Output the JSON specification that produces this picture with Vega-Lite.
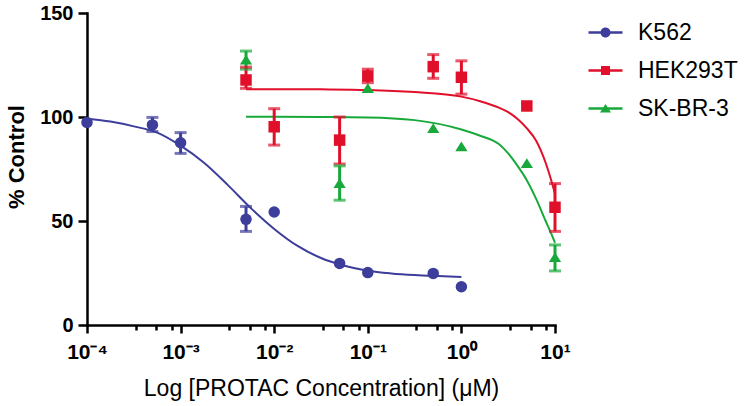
{
  "$schema": "https://vega.github.io/schema/vega-lite/v6.json",
  "width": 468,
  "height": 312,
  "autosize": {"type": "none"},
  "padding": {"left": 87, "top": 13, "right": 195, "bottom": 81},
  "background": "white",
  "config": {"view": {"stroke": null}, "font": "Liberation Sans"},
  "datasets": {
    "pts": [
      {"cell": "K562", "x": 0.0001, "y": 97.4},
      {"cell": "K562", "x": 0.0005, "y": 96.2, "lo": 93, "hi": 99.8},
      {"cell": "K562", "x": 0.001, "y": 87.6, "lo": 82.5, "hi": 92.5},
      {"cell": "K562", "x": 0.005, "y": 50.8, "lo": 45, "hi": 57},
      {"cell": "K562", "x": 0.01, "y": 54.3},
      {"cell": "K562", "x": 0.05, "y": 29.6},
      {"cell": "K562", "x": 0.1, "y": 25.2},
      {"cell": "K562", "x": 0.5, "y": 24.8},
      {"cell": "K562", "x": 1, "y": 18.4},
      {"cell": "SK-BR-3", "x": 0.005, "y": 127.4, "lo": 123, "hi": 131.7},
      {"cell": "SK-BR-3", "x": 0.05, "y": 68.1, "lo": 60, "hi": 76.5},
      {"cell": "SK-BR-3", "x": 0.1, "y": 113.8},
      {"cell": "SK-BR-3", "x": 0.5, "y": 94.5},
      {"cell": "SK-BR-3", "x": 1, "y": 85.7},
      {"cell": "SK-BR-3", "x": 5, "y": 77.7},
      {"cell": "SK-BR-3", "x": 10, "y": 32.5, "lo": 26, "hi": 38.5},
      {"cell": "HEK293T", "x": 0.005, "y": 117.8, "lo": 113.8, "hi": 124},
      {"cell": "HEK293T", "x": 0.01, "y": 95.3, "lo": 86.5, "hi": 104},
      {"cell": "HEK293T", "x": 0.05, "y": 88.9, "lo": 77.4, "hi": 100},
      {"cell": "HEK293T", "x": 0.1, "y": 119.7, "lo": 116.5, "hi": 123},
      {"cell": "HEK293T", "x": 0.5, "y": 124.2, "lo": 118.6, "hi": 130},
      {"cell": "HEK293T", "x": 1, "y": 119.1, "lo": 111, "hi": 127},
      {"cell": "HEK293T", "x": 5, "y": 105.3},
      {"cell": "HEK293T", "x": 10, "y": 56.6, "lo": 45, "hi": 68}
    ],
    "fit": [
      {"cell": "K562", "x": 0.0001, "y": 99.2},
      {"cell": "K562", "x": 0.00017783, "y": 97.8},
      {"cell": "K562", "x": 0.00031623, "y": 95.5},
      {"cell": "K562", "x": 0.00056234, "y": 92.5},
      {"cell": "K562", "x": 0.001, "y": 86.2},
      {"cell": "K562", "x": 0.0017783, "y": 78},
      {"cell": "K562", "x": 0.0031623, "y": 67.5},
      {"cell": "K562", "x": 0.0056234, "y": 56.2},
      {"cell": "K562", "x": 0.01, "y": 46.2},
      {"cell": "K562", "x": 0.017783, "y": 38},
      {"cell": "K562", "x": 0.031623, "y": 32.2},
      {"cell": "K562", "x": 0.056234, "y": 28.5},
      {"cell": "K562", "x": 0.1, "y": 26.1},
      {"cell": "K562", "x": 0.17783, "y": 24.8},
      {"cell": "K562", "x": 0.31623, "y": 24},
      {"cell": "K562", "x": 0.56234, "y": 23.5},
      {"cell": "K562", "x": 1, "y": 23.1},
      {"cell": "HEK293T", "x": 0.005, "y": 113.4},
      {"cell": "HEK293T", "x": 0.01, "y": 113.4},
      {"cell": "HEK293T", "x": 0.031623, "y": 113.3},
      {"cell": "HEK293T", "x": 0.1, "y": 113.0},
      {"cell": "HEK293T", "x": 0.31623, "y": 112.0},
      {"cell": "HEK293T", "x": 1, "y": 109.8},
      {"cell": "HEK293T", "x": 1.5849, "y": 107.6},
      {"cell": "HEK293T", "x": 2.5119, "y": 104.5},
      {"cell": "HEK293T", "x": 3.1623, "y": 102.3},
      {"cell": "HEK293T", "x": 3.9811, "y": 99},
      {"cell": "HEK293T", "x": 5.0119, "y": 94.5},
      {"cell": "HEK293T", "x": 6.3096, "y": 88.5},
      {"cell": "HEK293T", "x": 7.9433, "y": 78},
      {"cell": "HEK293T", "x": 8.9125, "y": 71},
      {"cell": "HEK293T", "x": 10, "y": 63},
      {"cell": "SK-BR-3", "x": 0.005, "y": 100.1},
      {"cell": "SK-BR-3", "x": 0.01, "y": 100.1},
      {"cell": "SK-BR-3", "x": 0.031623, "y": 100},
      {"cell": "SK-BR-3", "x": 0.1, "y": 99.8},
      {"cell": "SK-BR-3", "x": 0.31623, "y": 98.5},
      {"cell": "SK-BR-3", "x": 1, "y": 94},
      {"cell": "SK-BR-3", "x": 1.5849, "y": 91},
      {"cell": "SK-BR-3", "x": 2.5119, "y": 87},
      {"cell": "SK-BR-3", "x": 3.1623, "y": 82.5},
      {"cell": "SK-BR-3", "x": 3.9811, "y": 76.5},
      {"cell": "SK-BR-3", "x": 5.0119, "y": 69.5},
      {"cell": "SK-BR-3", "x": 6.3096, "y": 60.5},
      {"cell": "SK-BR-3", "x": 7.9433, "y": 50},
      {"cell": "SK-BR-3", "x": 8.9125, "y": 45},
      {"cell": "SK-BR-3", "x": 10, "y": 39.5}
    ]
  },
  "layer": [
    {
      "data": {"name": "fit"},
      "mark": {"type": "line", "strokeWidth": 2, "interpolate": "monotone"},
      "encoding": {
        "x": {
          "field": "x", "type": "quantitative",
          "scale": {"type": "log", "domain": [0.0001, 10], "nice": false},
          "axis": {
            "values": [0.0001, 0.00033, 0.00055, 0.0008, 0.001, 0.0033, 0.0055, 0.008, 0.01, 0.033, 0.055, 0.08, 0.1, 0.33, 0.55, 0.8, 1, 3.3, 5.5, 8, 10],
            "labelExpr": "datum.value == 0.0001 ? '10⁻⁴' : datum.value == 0.001 ? '10⁻³' : datum.value == 0.01 ? '10⁻²' : datum.value == 0.1 ? '10⁻¹' : datum.value == 1 ? '10⁰' : datum.value == 10 ? '10¹' : ''",
            "tickSize": {"condition": {"test": "indexof([0.0001, 0.001, 0.01, 0.1, 1, 10], datum.value) >= 0", "value": 8}, "value": 5},
            "tickWidth": 2.5, "tickColor": "black",
            "domainColor": "black", "domainWidth": 2.5, "domainCap": "square",
            "labelFont": "Liberation Sans", "labelFontWeight": "bold", "labelFontSize": 21, "labelColor": "black",
            "labelPadding": 25, "labelBaseline": "alphabetic", "labelFlush": false, "labelOverlap": false, "labelBound": false,
            "grid": false,
            "title": "Log [PROTAC Concentration] (μM)",
            "titleFont": "Liberation Sans", "titleFontSize": 23, "titleFontWeight": "normal", "titleColor": "black",
            "titleY": 70, "titleBaseline": "alphabetic"
          }
        },
        "y": {
          "field": "y", "type": "quantitative",
          "scale": {"domain": [0, 150], "nice": false},
          "axis": {
            "values": [0, 50, 100, 150],
            "tickSize": 9, "tickWidth": 2.5, "tickColor": "black",
            "domainColor": "black", "domainWidth": 2.5, "domainCap": "square",
            "labelFont": "Liberation Sans", "labelFontWeight": "bold", "labelFontSize": 20, "labelColor": "black",
            "labelPadding": 5, "labelFlush": false, "labelOverlap": false,
            "grid": false,
            "title": "% Control",
            "titleFont": "Liberation Sans", "titleFontSize": 22, "titleFontWeight": "bold", "titleColor": "black",
            "titleX": -64, "titleY": 143.5, "titleAngle": -90, "titleAlign": "center", "titleBaseline": "alphabetic"
          }
        },
        "color": {
          "field": "cell", "type": "nominal",
          "scale": {"domain": ["K562", "HEK293T", "SK-BR-3"], "range": ["#3d3d9b", "#e0102b", "#19a93b"]}
        }
      }
    },
    {
      "data": {"name": "pts"},
      "transform": [{"filter": "isValid(datum.lo)"}],
      "mark": {"type": "rule", "strokeWidth": 3},
      "encoding": {
        "x": {"field": "x", "type": "quantitative"},
        "y": {"field": "lo", "type": "quantitative"},
        "y2": {"field": "hi"},
        "color": {"field": "cell", "type": "nominal"}
      }
    },
    {
      "data": {"name": "pts"},
      "transform": [{"filter": "isValid(datum.lo)"}],
      "mark": {"type": "tick", "orient": "horizontal", "size": 12, "thickness": 3},
      "encoding": {
        "x": {"field": "x", "type": "quantitative"},
        "y": {"field": "lo", "type": "quantitative"},
        "color": {"field": "cell", "type": "nominal"}
      }
    },
    {
      "data": {"name": "pts"},
      "transform": [{"filter": "isValid(datum.lo)"}],
      "mark": {"type": "tick", "orient": "horizontal", "size": 12, "thickness": 3},
      "encoding": {
        "x": {"field": "x", "type": "quantitative"},
        "y": {"field": "hi", "type": "quantitative"},
        "color": {"field": "cell", "type": "nominal"}
      }
    },
    {
      "data": {"name": "pts"},
      "transform": [{"filter": "datum.cell === 'K562'"}],
      "mark": {"type": "point", "shape": "circle", "filled": true, "opacity": 1, "size": 132},
      "encoding": {
        "x": {"field": "x", "type": "quantitative"},
        "y": {"field": "y", "type": "quantitative"},
        "color": {"field": "cell", "type": "nominal"}
      }
    },
    {
      "data": {"name": "pts"},
      "transform": [{"filter": "datum.cell === 'SK-BR-3'"}],
      "mark": {"type": "point", "shape": "M0,-0.85L1,0.75L-1,0.75Z", "filled": true, "opacity": 1, "size": 150},
      "encoding": {
        "x": {"field": "x", "type": "quantitative"},
        "y": {"field": "y", "type": "quantitative"},
        "color": {"field": "cell", "type": "nominal"}
      }
    },
    {
      "data": {"name": "pts"},
      "transform": [{"filter": "datum.cell === 'HEK293T'"}],
      "mark": {"type": "point", "shape": "square", "filled": true, "opacity": 1, "size": 132},
      "encoding": {
        "x": {"field": "x", "type": "quantitative"},
        "y": {"field": "y", "type": "quantitative"},
        "color": {
          "field": "cell", "type": "nominal",
          "legend": {
            "title": null, "orient": "none", "legendX": 507, "legendY": 8, "padding": 0,
            "labelFont": "Liberation Sans", "labelFontSize": 23, "labelColor": "black",
            "symbolSize": 100, "symbolStrokeWidth": 0, "symbolOpacity": 1, "labelOffset": 21, "rowPadding": 14,
            "encode": {
              "symbols": {
                "update": {
                  "shape": {"signal": "datum.value === 'K562' ? 'M-3.4,-0.25H3.4V0.25H-3.4Z M1,0A1,1,0,1,1,-1,0A1,1,0,1,1,1,0Z' : datum.value === 'HEK293T' ? 'M-3.4,-0.25H3.4V0.25H-3.4Z M-0.9,-0.9H0.9V0.9H-0.9Z' : 'M-3.4,-0.25H3.4V0.25H-3.4Z M0,-0.9L1.1,0.8H-1.1Z'"},
                  "fill": {"signal": "scale('color', datum.value)"},
                  "strokeWidth": {"value": 0},
                  "opacity": {"value": 1}
                }
              }
            }
          }
        }
      }
    }
  ]
}
